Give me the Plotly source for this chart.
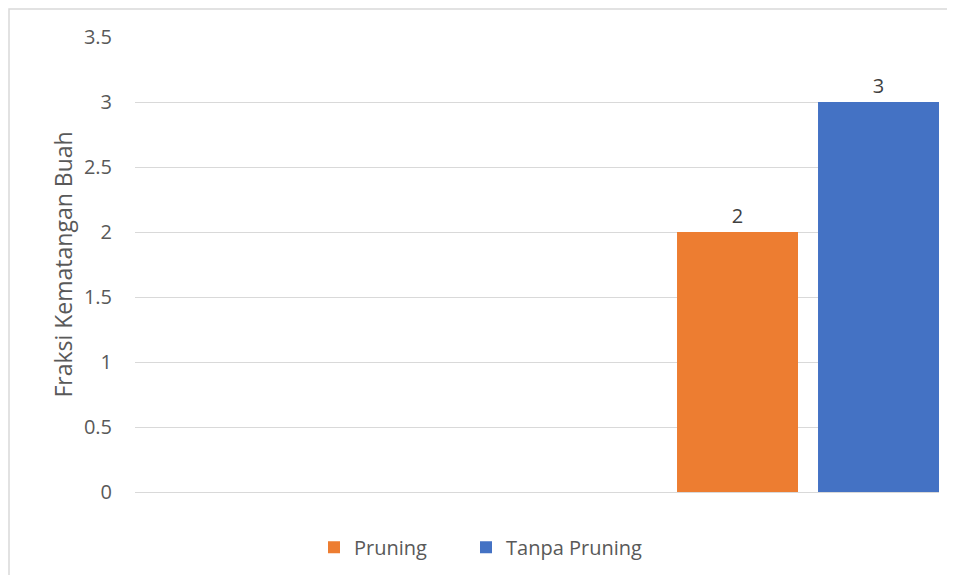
import plotly.graph_objects as go

categories = ["Pruning", "Tanpa Pruning"]
values = [2, 3]
colors = ["#ED7D31", "#4472C4"]
legend_ids = ["legend", "legend2"]
y_ticks = [0, 0.5, 1, 1.5, 2, 2.5, 3, 3.5]
y_tick_labels = ["0", "0.5", "1", "1.5", "2", "2.5", "3", "3.5"]

fig = go.Figure()
for cat, val, col, lg in zip(categories, values, colors, legend_ids):
    fig.add_trace(go.Bar(
        x=[cat], y=[val], name=cat, marker=dict(color=col, line=dict(width=0)),
        width=0.858, text=[str(val)], textposition="outside",
        textfont=dict(size=20, color="#404040"), cliponaxis=False, legend=lg,
    ))

PL, PT, PW, PH = 127, 29, 804, 455
LEG_Y = -0.1214

fig.update_layout(
    width=955, height=575,
    margin=dict(l=PL, r=955 - PL - PW, t=PT, b=575 - PT - PH),
    paper_bgcolor="white", plot_bgcolor="white",
    font=dict(family="Open Sans", size=20, color="#595959"),
    barmode="overlay",
    showlegend=True,
    legend=dict(orientation="h", x=(306 - PL) / PW, xanchor="left", y=LEG_Y, yanchor="middle",
                font=dict(size=20, color="#595959")),
    legend2=dict(orientation="h", x=(458 - PL) / PW, xanchor="left", y=LEG_Y, yanchor="middle",
                 font=dict(size=20, color="#595959")),
    xaxis=dict(type="category", categoryorder="array", categoryarray=categories,
               range=[-4.273, 1.429], showticklabels=False, showgrid=False,
               zeroline=False, showline=False, ticks="", fixedrange=True),
    yaxis=dict(range=[0, 3.5], tickvals=y_ticks, ticktext=y_tick_labels,
               showgrid=True, gridcolor="#D9D9D9", gridwidth=1.3,
               zeroline=True, zerolinecolor="#D9D9D9", zerolinewidth=1.3,
               showline=False, ticks="", ticklabelstandoff=22,
               title=dict(text="Fraksi Kematangan Buah", standoff=4,
                          font=dict(size=23, color="#595959"))),
    shapes=[dict(type="rect", xref="paper", yref="paper",
                 x0=(1 - PL) / PW, x1=1.2, y0=-0.3, y1=(PH + PT - 1) / PH,
                 line=dict(color="#D9D9D9", width=1.5), fillcolor="rgba(0,0,0,0)", layer="below")],
)

fig.write_html("out.html")
